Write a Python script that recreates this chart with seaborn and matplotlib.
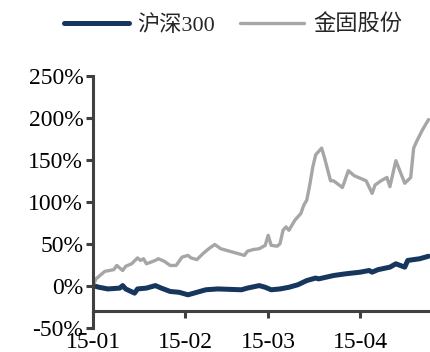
import pandas as pd
import matplotlib
matplotlib.use('Agg')
import matplotlib.pyplot as plt
import matplotlib.dates as mdates
import seaborn as sns

# --- data (cumulative return, %) ---
hs300_dates = ['2015-01-01', '2015-01-03', '2015-01-06', '2015-01-10', '2015-01-11',
               '2015-01-12', '2015-01-15', '2015-01-16', '2015-01-19', '2015-01-22',
               '2015-01-24', '2015-01-27', '2015-01-30', '2015-02-02', '2015-02-03',
               '2015-02-05', '2015-02-08', '2015-02-12', '2015-02-20', '2015-02-22',
               '2015-02-26', '2015-02-28', '2015-03-02', '2015-03-05', '2015-03-08',
               '2015-03-11', '2015-03-14', '2015-03-17', '2015-03-18', '2015-03-23',
               '2015-03-27', '2015-04-01', '2015-04-04', '2015-04-05', '2015-04-07',
               '2015-04-11', '2015-04-13', '2015-04-16', '2015-04-17', '2015-04-21',
               '2015-04-24']
hs300_vals = [0, -2, -4, -3, 0,
              -4, -9, -4, -3, 0,
              -3, -7, -8, -11, -10,
              -8, -5, -4, -5, -3,
              0, -2, -5, -4, -2,
              1, 6, 9, 8, 12,
              14, 16, 18, 16, 19,
              22, 26, 22, 30, 32,
              35]

jingu_dates = ['2015-01-01', '2015-01-02', '2015-01-03', '2015-01-05', '2015-01-08',
               '2015-01-09', '2015-01-11', '2015-01-12', '2015-01-14', '2015-01-16',
               '2015-01-17', '2015-01-18', '2015-01-19', '2015-01-22', '2015-01-23',
               '2015-01-25', '2015-01-27', '2015-01-29', '2015-01-31', '2015-02-02',
               '2015-02-03', '2015-02-05', '2015-02-07', '2015-02-08', '2015-02-09',
               '2015-02-11', '2015-02-13', '2015-02-16', '2015-02-19', '2015-02-21',
               '2015-02-22', '2015-02-24', '2015-02-26', '2015-02-28', '2015-03-01',
               '2015-03-02', '2015-03-04', '2015-03-05', '2015-03-06', '2015-03-07',
               '2015-03-08', '2015-03-10', '2015-03-12', '2015-03-13', '2015-03-14',
               '2015-03-15', '2015-03-16', '2015-03-17', '2015-03-19', '2015-03-20',
               '2015-03-22', '2015-03-23', '2015-03-26', '2015-03-28', '2015-03-30',
               '2015-04-03', '2015-04-05', '2015-04-06', '2015-04-08', '2015-04-10',
               '2015-04-11', '2015-04-13', '2015-04-14', '2015-04-16', '2015-04-18',
               '2015-04-19', '2015-04-20', '2015-04-22', '2015-04-24']
jingu_vals = [0, 8, 11, 17, 19,
              24, 18, 23, 26, 33,
              30, 32, 26, 30, 32,
              29, 24, 24, 34, 36,
              33, 31, 38, 41, 44,
              49, 44, 41, 38, 36,
              41, 43, 44, 48, 60,
              48, 47, 50, 66, 70,
              66, 78, 86, 96, 102,
              120, 141, 156, 164, 152,
              125, 125, 117, 137, 131,
              125, 110, 120, 125, 129,
              118, 149, 140, 122, 129,
              164, 172, 186, 198]

series_names = ['沪深300', '金固股份']
series_colors = ['#17365D', '#A6A6A6']
y_ticks = [-50, 0, 50, 100, 150, 200, 250]
x_ticks = ['2015-01-01', '2015-02-01', '2015-03-01', '2015-04-01']

df = pd.concat([
    pd.DataFrame({'date': pd.to_datetime(hs300_dates), 'value': hs300_vals, 'series': series_names[0]}),
    pd.DataFrame({'date': pd.to_datetime(jingu_dates), 'value': jingu_vals, 'series': series_names[1]}),
]).reset_index(drop=True)

sns.set_theme(style='ticks')
plt.rcParams['font.family'] = ['Liberation Serif', 'Noto Sans CJK SC']

fig = plt.figure(figsize=(4.3, 3.52), dpi=100)
ax = fig.add_axes([93 / 430, 24.5 / 352, 1 - 93 / 430, 251.5 / 352])

widths = {series_names[0]: 3.6, series_names[1]: 2.4}
for name, color in zip(series_names, series_colors):
    sns.lineplot(ax=ax, data=df[df['series'] == name], x='date', y='value',
                 color=color, linewidth=widths[name], label=name,
                 solid_capstyle='round', solid_joinstyle='round')

axis_color = '#404040'
ax.set_ylim(-50, 250)
ax.set_xlim(pd.Timestamp('2015-01-01'), pd.Timestamp('2015-04-24 12:00'))
ax.set_yticks(y_ticks)
ax.set_yticklabels([f'{v}%' for v in y_ticks])
ax.set_xticks(pd.to_datetime(x_ticks))
ax.xaxis.set_major_formatter(mdates.DateFormatter('%y-%m'))
ax.set(xlabel='', ylabel='')

ax.spines['bottom'].set_position(('data', -30))
for side in ['top', 'right']:
    ax.spines[side].set_visible(False)
for side in ['left', 'bottom']:
    ax.spines[side].set_color(axis_color)
    ax.spines[side].set_linewidth(2.2)
ax.tick_params(axis='both', colors=axis_color, width=2.2, length=5, labelsize=17,
               labelcolor='black')
ax.tick_params(axis='y', pad=2)
ax.tick_params(axis='x', pad=10)

ax.legend(loc='center', bbox_to_anchor=(233 / 430, 1 - 25 / 352), bbox_transform=fig.transFigure,
          ncol=2, frameon=False, fontsize=16, handlelength=2.9, columnspacing=1.1,
          handletextpad=0.4)

fig.savefig('out.png', dpi=100)
plt.close()
